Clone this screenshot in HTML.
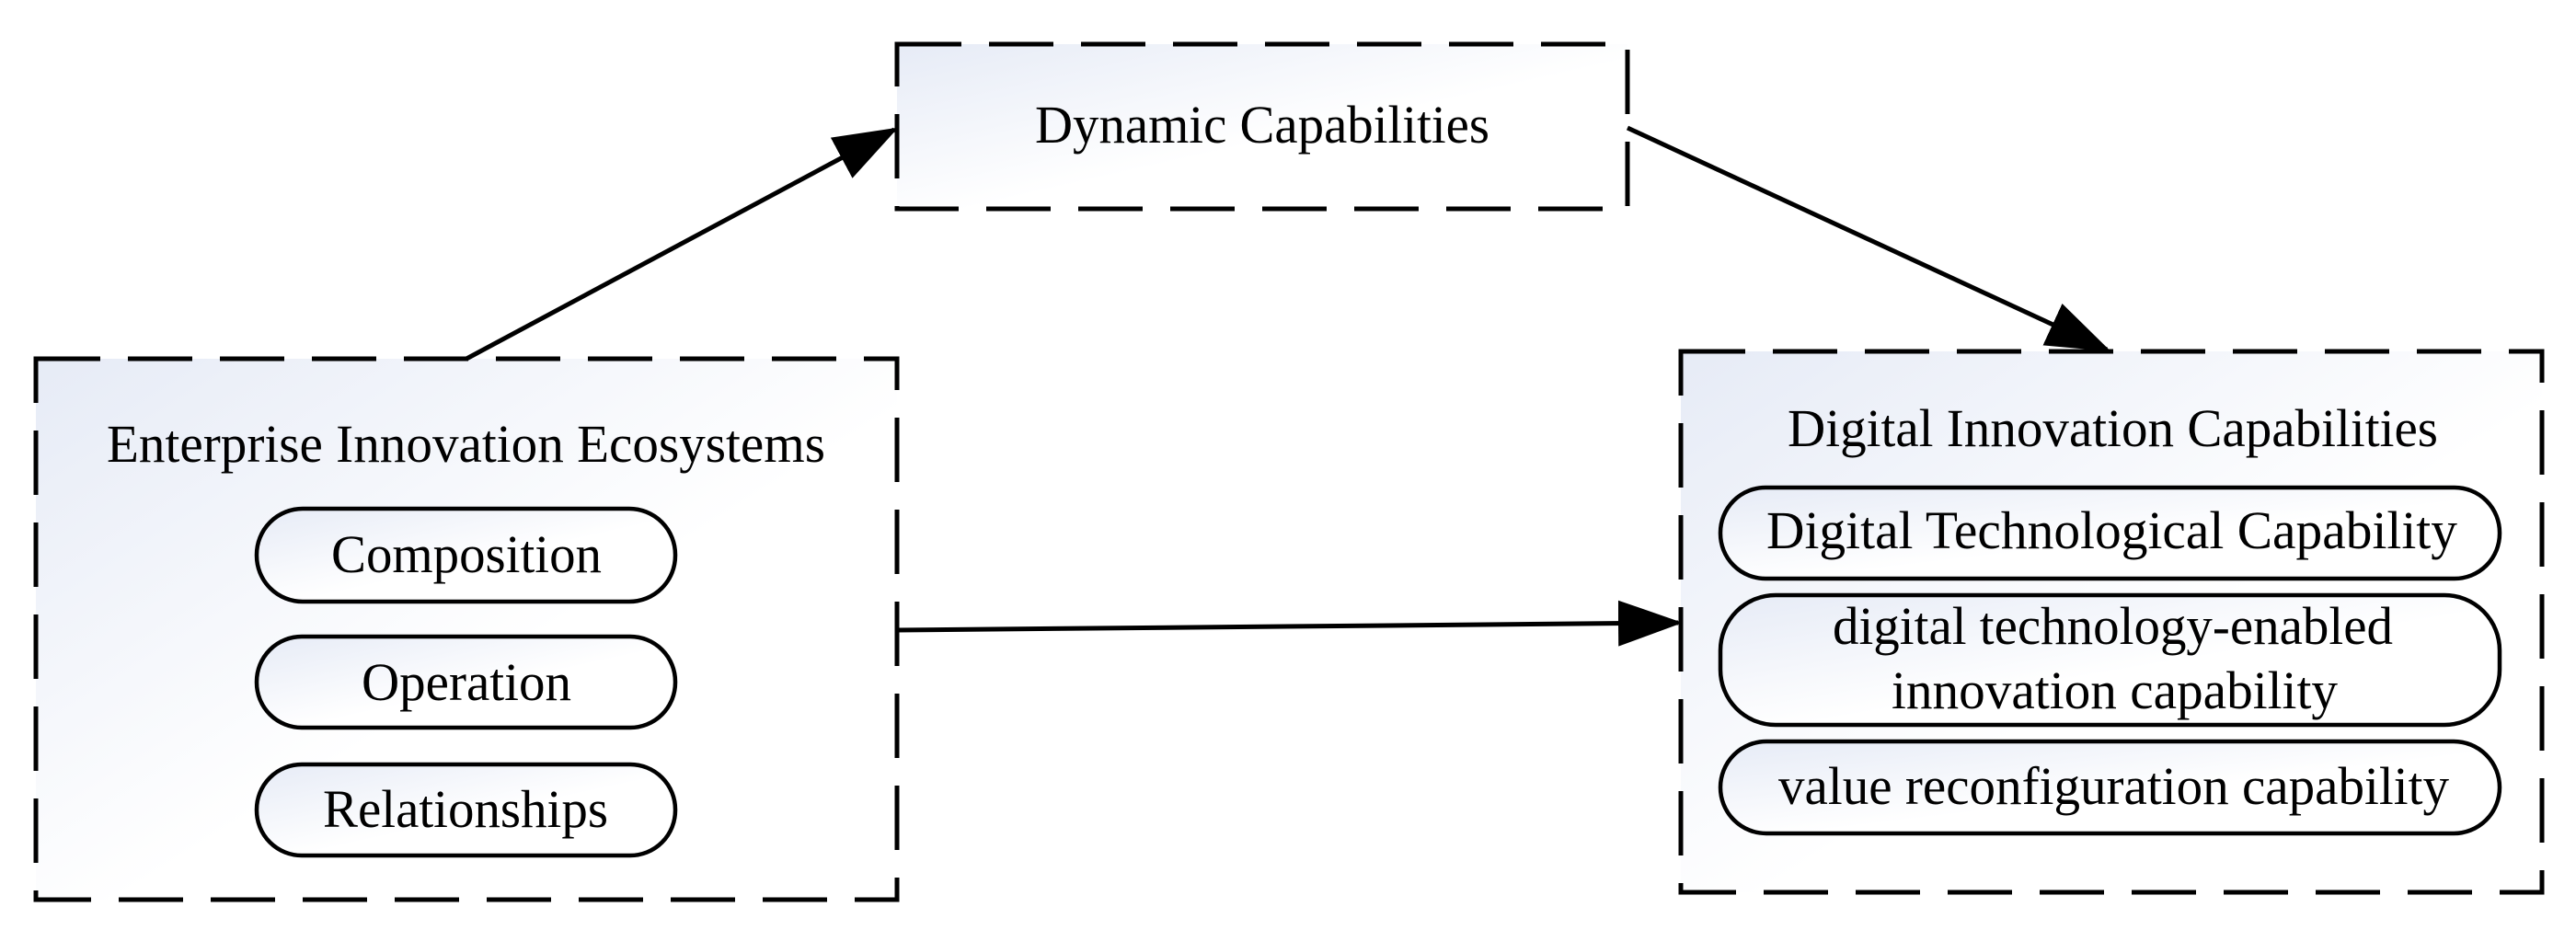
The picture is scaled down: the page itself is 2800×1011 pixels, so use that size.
<!DOCTYPE html>
<html><head><meta charset="utf-8"><style>html,body{margin:0;padding:0;background:#fff}svg{display:block}</style></head>
<body>
<svg width="2800" height="1011" viewBox="0 0 2800 1011" xmlns="http://www.w3.org/2000/svg" font-family="Liberation Serif, serif" font-size="58" fill="#000">
<defs>
<linearGradient id="g" x1="0" y1="0" x2="1" y2="1">
<stop offset="0" stop-color="#e6ebf6"/><stop offset="0.55" stop-color="#ffffff"/></linearGradient>
<marker id="a" markerWidth="14" markerHeight="10" refX="13" refY="5" orient="auto" markerUnits="strokeWidth">
<path d="M0,0 L14,5 L0,10 z" fill="#000"/></marker>
</defs>
<g stroke="#000" stroke-width="5" stroke-dasharray="70 30">
<rect x="39" y="390" width="936" height="588" fill="url(#g)"/>
<rect x="975" y="48" width="794" height="179" fill="url(#g)"/>
<rect x="1827" y="382" width="936" height="588" fill="url(#g)"/>
</g>
<g stroke="#000" stroke-width="4.5" fill="url(#g)">
<rect x="279" y="553" width="455" height="101" rx="50"/>
<rect x="279" y="692" width="455" height="99" rx="49"/>
<rect x="279" y="831" width="455" height="99" rx="49"/>
<rect x="1870" y="530" width="847" height="99" rx="49"/>
<rect x="1870" y="647" width="847" height="141" rx="60"/>
<rect x="1870" y="806" width="847" height="100" rx="50"/>
</g>
<g stroke="#000" stroke-width="5" fill="none">
<line x1="507" y1="390" x2="972" y2="141" marker-end="url(#a)"/>
<line x1="1769" y1="139" x2="2290" y2="380" marker-end="url(#a)"/>
<line x1="975" y1="685" x2="1824" y2="677" marker-end="url(#a)"/>
</g>
<g stroke="none" lengthAdjust="spacingAndGlyphs">
<text x="116" y="502" textLength="781" lengthAdjust="spacingAndGlyphs">Enterprise Innovation Ecosystems</text>
<text x="360" y="622" textLength="294" lengthAdjust="spacingAndGlyphs">Composition</text>
<text x="393" y="761" textLength="228" lengthAdjust="spacingAndGlyphs">Operation</text>
<text x="351" y="899" textLength="310" lengthAdjust="spacingAndGlyphs">Relationships</text>
<text x="1125" y="155" textLength="494" lengthAdjust="spacingAndGlyphs">Dynamic Capabilities</text>
<text x="1943" y="485" textLength="707" lengthAdjust="spacingAndGlyphs">Digital Innovation Capabilities</text>
<text x="1920" y="596" textLength="751" lengthAdjust="spacingAndGlyphs">Digital Technological Capability</text>
<text x="1992" y="700" textLength="609" lengthAdjust="spacingAndGlyphs">digital technology-enabled</text>
<text x="2056" y="770" textLength="485" lengthAdjust="spacingAndGlyphs">innovation capability</text>
<text x="1933" y="874" textLength="729" lengthAdjust="spacingAndGlyphs">value reconfiguration capability</text>
</g>
</svg>
</body></html>
